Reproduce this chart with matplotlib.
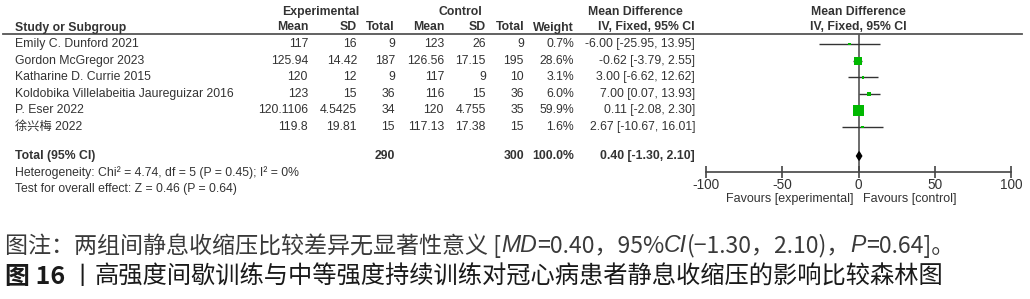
import matplotlib
matplotlib.use("Agg")
import matplotlib.pyplot as plt
import numpy as np

# ---------------- data ----------------
studies = ["Emily C. Dunford 2021", "Gordon McGregor 2023", "Katharine D. Currie 2015",
           "Koldobika Villelabeitia Jaureguizar 2016", "P. Eser 2022", "徐兴梅 2022"]
exp_mean = ["117", "125.94", "120", "123", "120.1106", "119.8"]
exp_sd = ["16", "14.42", "12", "15", "4.5425", "19.81"]
exp_total = [9, 187, 9, 36, 34, 15]
ctl_mean = ["123", "126.56", "117", "116", "120", "117.13"]
ctl_sd = ["26", "17.15", "9", "15", "4.755", "17.38"]
ctl_total = [9, 195, 10, 36, 35, 15]
weight = [0.7, 28.6, 3.1, 6.0, 59.9, 1.6]
md = [-6.00, -0.62, 3.00, 7.00, 0.11, 2.67]
ci_lo = [-25.95, -3.79, -6.62, 0.07, -2.08, -10.67]
ci_hi = [13.95, 2.55, 12.62, 13.93, 2.30, 16.01]
total_md, total_lo, total_hi = 0.40, -1.30, 2.10
total_exp, total_ctl = 290, 300
x_ticks = [-100, -50, 0, 50, 100]
heterogeneity = "Heterogeneity: Chi² = 4.74, df = 5 (P = 0.45); I² = 0%"
overall = "Test for overall effect: Z = 0.46 (P = 0.64)"

# ---------------- layout ----------------
W, H = 1030, 299
fig = plt.figure(figsize=(W / 100, H / 100), dpi=100)
fig.patch.set_facecolor("white")

FAM = ["Liberation Sans", "Noto Sans CJK SC", "DejaVu Sans"]
CJK = ["Noto Sans CJK SC", "DejaVu Sans"]
TC = "#333333"
FS = 8.8


def fx(px):
    return px / W


def fy(py):
    return 1 - py / H


def row_py(i):
    return 44 + 16.6 * i


def txt(x, y, s, ha="left", bold=False, fs=FS, color=TC, fam=FAM, **kw):
    return fig.text(fx(x), fy(y), s, ha=ha, va="center", fontsize=fs, color=color,
                    fontweight="bold" if bold else "normal", family=fam, **kw)


# headers
txt(321, 12, "Experimental", ha="center", bold=True)
txt(460, 12, "Control", ha="center", bold=True)
txt(635, 12, "Mean Difference", ha="center", bold=True)
txt(858, 12, "Mean Difference", ha="center", bold=True)
txt(15, 27.5, "Study or Subgroup", bold=True)
cols = [308, 357, 395, 444, 486, 524, 574, 695]
for x, s in zip(cols, ["Mean", "SD", "Total", "Mean", "SD", "Total", "Weight", "IV, Fixed, 95% CI"]):
    txt(x, 27.5, s, ha="right", bold=True)
txt(858, 27.5, "IV, Fixed, 95% CI", ha="center", bold=True)
fig.add_artist(plt.Line2D([fx(3), fx(1022)], [fy(33.5), fy(33.5)], color="#555555", lw=1.3))

for i in range(len(studies)):
    y = row_py(i)
    txt(15, y, studies[i])
    vals = [exp_mean[i], exp_sd[i], str(exp_total[i]), ctl_mean[i], ctl_sd[i], str(ctl_total[i]),
            f"{weight[i]:.1f}%", f"{md[i]:.2f} [{ci_lo[i]:.2f}, {ci_hi[i]:.2f}]"]
    for x, s in zip(cols, vals):
        txt(x, y, s, ha="right")

ty = 156
txt(15, ty, "Total (95% CI)", bold=True)
txt(cols[2], ty, str(total_exp), ha="right", bold=True)
txt(cols[5], ty, str(total_ctl), ha="right", bold=True)
txt(cols[6], ty, "100.0%", ha="right", bold=True)
txt(cols[7], ty, f"{total_md:.2f} [{total_lo:.2f}, {total_hi:.2f}]", ha="right", bold=True)
txt(15, 173, heterogeneity)
txt(15, 189, overall)

# ---------------- forest plot ----------------
ax_top, ax_bot = 33.5, 172
ax = fig.add_axes([fx(706), fy(ax_bot), fx(1011) - fx(706), (ax_bot - ax_top) / H])
ax.set_xlim(-100, 100)
row_of = lambda py: (py - 44) / 16.6
ax.set_ylim(row_of(ax_bot), row_of(ax_top))
ax.patch.set_alpha(0)
for s in ["top", "right", "left"]:
    ax.spines[s].set_visible(False)
ax.spines["bottom"].set_color("#444444")
ax.spines["bottom"].set_linewidth(1.2)
ax.set_yticks([])
ax.set_xticks(x_ticks)
ax.set_xticklabels([str(t) for t in x_ticks], fontsize=9.8, color=TC, family=FAM)
ax.tick_params(axis="x", direction="inout", length=8, width=1.2, color="#444444", pad=0.5)
ax.axvline(0, color="#444444", lw=1.1, zorder=1)

ys = np.arange(len(studies))
ax.hlines(ys, ci_lo, ci_hi, color="#333333", lw=1.0, zorder=2)
side_px = np.maximum(1.5 * np.sqrt(weight), 2.5)
ax.scatter(md, ys, marker="s", s=(side_px * 0.72) ** 2, color="#00b800", edgecolors="none", zorder=3)

t_row = row_of(ty)
h = 4.2 / 16.6
ax.fill([total_lo, total_md, total_hi, total_md], [t_row, t_row - h, t_row, t_row + h],
        color="black", zorder=4)

txt(853, 199, "Favours [experimental]", ha="right", fs=9.0)
txt(863, 199, "Favours [control]", ha="left", fs=9.0)

# ---------------- caption ----------------
renderer = fig.canvas.get_renderer()
ITAL = ["Liberation Sans", "DejaVu Sans"]


def rich(x_px, y_px, parts, fs, color):
    x = fx(x_px)
    for s, style in parts:
        style = dict(style)
        fam = style.pop("family", CJK)
        fsz = style.pop("fs", fs)
        t = fig.text(x, fy(y_px), s, ha="left", va="center", fontsize=fsz, color=color,
                     family=fam, **style)
        bb = t.get_window_extent(renderer)
        x = bb.x1 / fig.bbox.width


CFS = 16.6
it = {"style": "italic", "family": ITAL}
rich(5, 246, [("图注：两组间静息收缩压比较差异无显著性意义 [", {}), ("MD", it),
              ("=0.40，95%", {}), ("CI", it), ("(−1.30，2.10)，", {}),
              ("P", it), ("=0.64]。", {})], CFS, "#3a3a3a")
rich(5, 277, [("图 16", {"fontweight": "bold", "fs": 18}), (" 丨", {}),
              ("高强度间歇训练与中等强度持续训练对冠心病患者静息收缩压的影响比较森林图", {})],
     17.5, "#1a1a1a")

fig.savefig("out.png", dpi=100, facecolor="white")
